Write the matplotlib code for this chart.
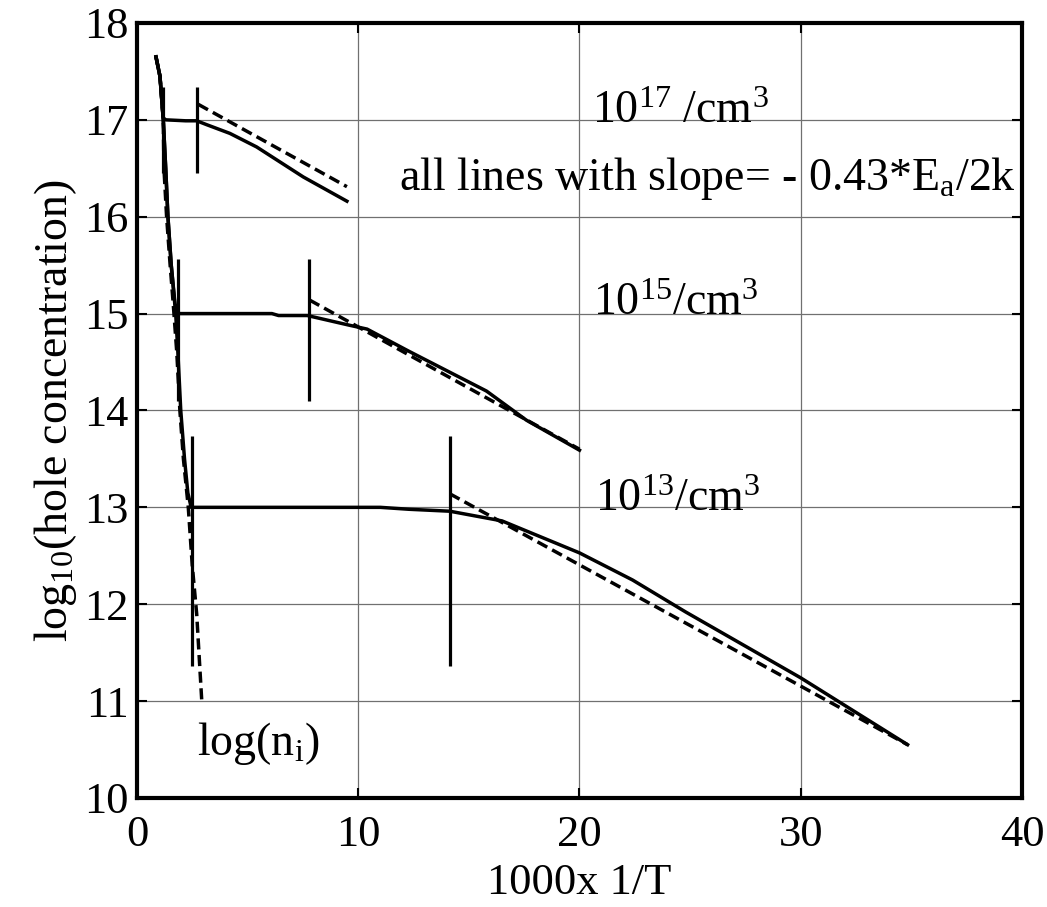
import matplotlib
matplotlib.use("Agg")
import matplotlib.pyplot as plt

plt.rcParams['font.family'] = ['Liberation Serif', 'DejaVu Serif']
plt.rcParams['mathtext.fontset'] = 'custom'
plt.rcParams['mathtext.rm'] = 'Liberation Serif'
plt.rcParams['mathtext.it'] = 'Liberation Serif'

# ---- data ----
ni_x = [0.86, 1.04, 1.19, 1.22, 1.34, 1.50, 1.64, 1.80, 1.94, 2.10, 2.32, 2.50, 2.70, 2.93]
ni_y = [17.65, 17.45, 17.0, 16.5, 16.0, 15.5, 15.1, 14.6, 14.0, 13.5, 13.0, 12.4, 11.9, 11.0]

p17_x = [0.86, 1.04, 1.19, 1.30, 2.20, 2.70, 3.15, 4.20, 5.41, 7.52, 9.49]
p17_y = [17.65, 17.45, 17.02, 17.0, 16.99, 16.99, 16.95, 16.86, 16.72, 16.41, 16.16]

p15_x = [0.86, 1.04, 1.19, 1.30, 1.40, 1.55, 1.72, 1.90, 6.10, 6.40, 7.70, 9.60, 10.4, 12.3, 15.8, 17.6, 20.0]
p15_y = [17.65, 17.45, 17.0, 16.5, 16.0, 15.5, 15.1, 15.0, 15.0, 14.98, 14.98, 14.88, 14.84, 14.61, 14.2, 13.9, 13.59]

p13_x = [0.86, 1.04, 1.19, 1.30, 1.40, 1.55, 1.75, 1.85, 1.98, 2.15, 2.30, 2.45, 11.0, 12.3, 14.14, 16.5, 20.0, 22.4, 24.8, 30.0, 34.83]
p13_y = [17.65, 17.45, 17.0, 16.5, 16.0, 15.5, 15.0, 14.6, 14.0, 13.5, 13.15, 13.0, 13.0, 12.98, 12.96, 12.86, 12.53, 12.25, 11.92, 11.24, 10.55]

slope17_x = [2.77, 9.49]
slope17_y = [17.16, 16.31]
slope15_x = [7.80, 20.0]
slope15_y = [15.14, 13.60]
slope13_x = [14.14, 34.83]
slope13_y = [13.14, 10.55]

marker_x = [1.18, 2.70, 1.85, 7.78, 2.50, 14.14]
marker_lo = [16.45, 16.45, 14.10, 14.10, 11.36, 11.36]
marker_hi = [17.34, 17.34, 15.56, 15.56, 13.74, 13.74]

x_ticks = [0, 10, 20, 30, 40]
y_ticks = [10, 11, 12, 13, 14, 15, 16, 17, 18]

# ---- figure ----
fig = plt.figure(figsize=(10.47, 9.07), dpi=100)
ax = fig.add_axes([0.1308, 0.1202, 0.8453, 0.8545])

ax.grid(True, color='#707070', linewidth=0.9)
ax.set_axisbelow(True)

lw = 2.5
dash = (3.2, 1.6)
ax.plot(ni_x, ni_y, color='black', lw=lw, ls=(0, dash))
ax.plot(p17_x, p17_y, color='black', lw=lw)
ax.plot(p15_x, p15_y, color='black', lw=lw)
ax.plot(p13_x, p13_y, color='black', lw=lw)
for sx, sy in [(slope17_x, slope17_y), (slope15_x, slope15_y), (slope13_x, slope13_y)]:
    ax.plot(sx, sy, color='black', lw=lw, ls=(0, dash))
ax.vlines(marker_x, marker_lo, marker_hi, color='black', lw=2.3)

ax.set_xlim(0, 40)
ax.set_ylim(10, 18)
ax.set_xticks(x_ticks)
ax.set_yticks(y_ticks)
ax.tick_params(direction='in', length=7, width=1.5, top=True, right=True,
               labelsize=32, pad=6)
ax.tick_params(axis='x', pad=12)
for s in ax.spines.values():
    s.set_linewidth(3.0)

ax.set_xlabel('1000x 1/T', fontsize=32, labelpad=6)
ax.set_ylabel(r'log$_{10}$(hole concentration)', fontsize=33, labelpad=4)

fs = 33
ax.text(20.55, 16.97, r'10$^{17}$ /cm$^3$', fontsize=fs, ha='left', va='baseline')
ax.text(39.75, 16.28, r'all lines with slope= - 0.43*E$_\mathrm{a}$/2k', fontsize=fs,
        ha='right', va='baseline')
ax.text(20.6, 14.99, r'10$^{15}$/cm$^3$', fontsize=fs, ha='left', va='baseline')
ax.text(20.7, 12.96, r'10$^{13}$/cm$^3$', fontsize=fs, ha='left', va='baseline')
ax.text(2.7, 10.44, r'log(n$_\mathrm{i}$)', fontsize=fs, ha='left', va='baseline')

fig.savefig('out.png', dpi=100)
